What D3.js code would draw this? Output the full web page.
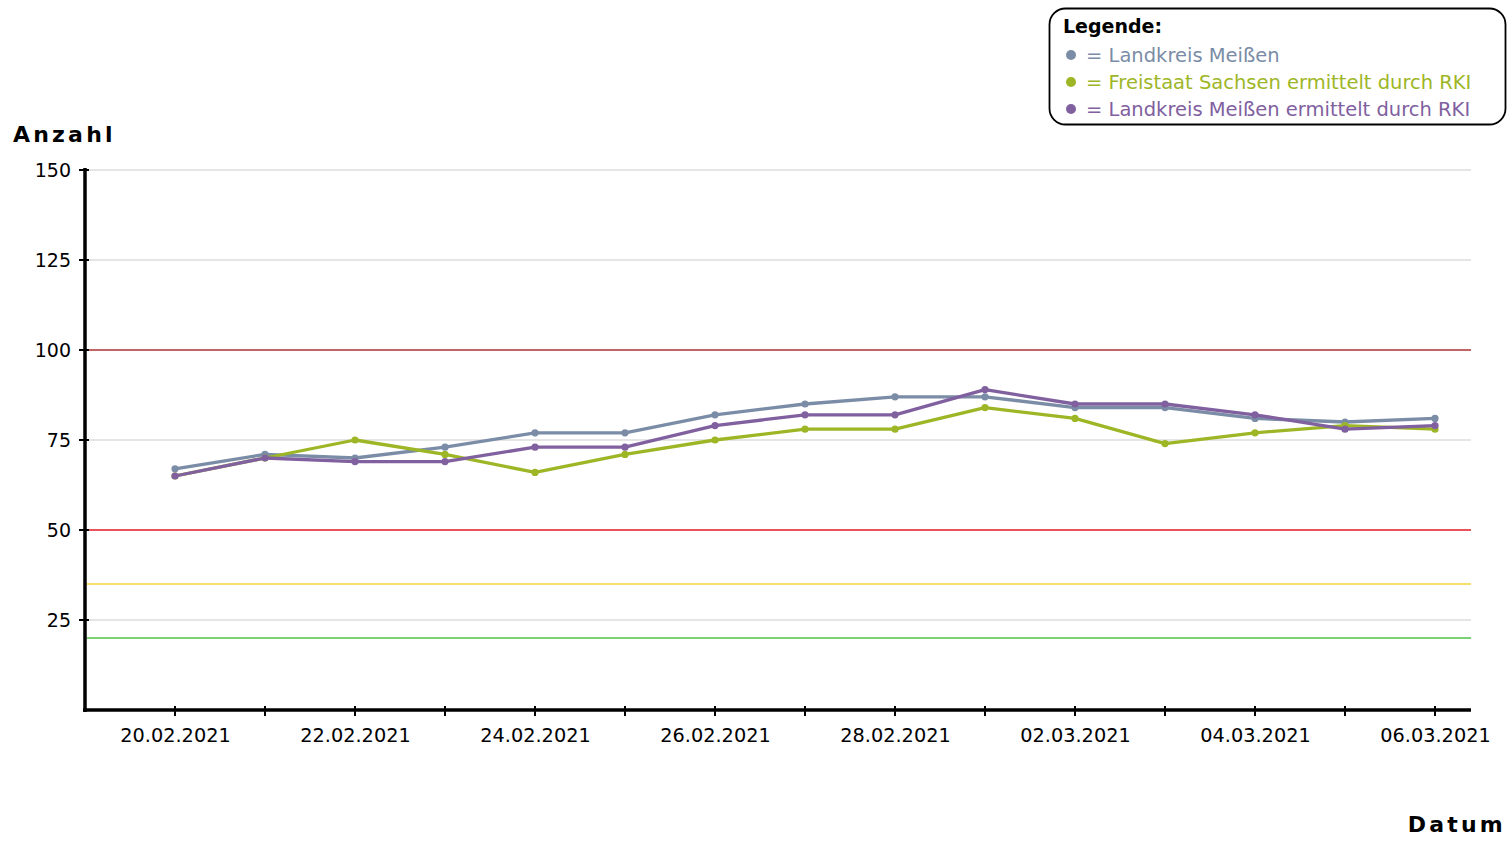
<!DOCTYPE html>
<html>
<head>
<meta charset="utf-8">
<script src="https://cdn.jsdelivr.net/npm/d3@7"></script>
<style>
  html, body { margin: 0; padding: 0; background: #fff; }
  svg { display: block; font-family: "DejaVu Sans", Verdana, sans-serif; }
</style>
</head>
<body>
<svg id="chart" width="1507" height="852"></svg>
<script>
const dates = ["20.02.2021","21.02.2021","22.02.2021","23.02.2021","24.02.2021","25.02.2021","26.02.2021","27.02.2021","28.02.2021","01.03.2021","02.03.2021","03.03.2021","04.03.2021","05.03.2021","06.03.2021"];
const landkreisMeissen = [67,71,70,73,77,77,82,85,87,87,84,84,81,80,81];
const freistaatSachsenRKI = [65,70,75,71,66,71,75,78,78,84,81,74,77,79,78];
const landkreisMeissenRKI = [65,70,69,69,73,73,79,82,82,89,85,85,82,78,79];
const yTicks = [25,50,75,100,125,150];
const thresholds = [100,50,35,20];
const thresholdColors = ["#b83a3a","#e8232a","#f5d53a","#4cc447"];
const seriesNames = ["Landkreis Meißen","Freistaat Sachsen ermittelt durch RKI","Landkreis Meißen ermittelt durch RKI"];
const seriesColors = ["#7a8ca6","#9db626","#80609f"];

const series = [landkreisMeissen, freistaatSachsenRKI, landkreisMeissenRKI];

const svg = d3.select("#chart");
const pLeft = 85, pRight = 1471, pTop = 170, pBottom = 710;

const x = d3.scaleLinear().domain([-1, dates.length - 0.6]).range([pLeft, pRight]);
const y = d3.scaleLinear().domain([0, 150]).range([pBottom, pTop]);

// gridlines
svg.append("g").selectAll("line").data(yTicks).join("line")
  .attr("x1", pLeft + 2).attr("x2", pRight)
  .attr("y1", d => y(d)).attr("y2", d => y(d))
  .attr("stroke", "#dcdcdc").attr("stroke-width", 1.5);

// threshold lines
svg.append("g").selectAll("line").data(thresholds).join("line")
  .attr("x1", pLeft + 2).attr("x2", pRight)
  .attr("y1", d => y(d)).attr("y2", d => y(d))
  .attr("stroke", (d, i) => thresholdColors[i]).attr("stroke-width", 1.6);

// y axis
const yAxis = d3.axisLeft(y).tickValues(yTicks).tickSize(0).tickPadding(14);
const gy = svg.append("g").attr("transform", `translate(${pLeft},0)`).call(yAxis);
gy.select(".domain").remove();
gy.selectAll("text").attr("font-size", 19).attr("fill", "#000")
  .style("font-family", "'DejaVu Sans', Verdana, sans-serif");
svg.append("g").selectAll("line").data(yTicks).join("line")
  .attr("x1", pLeft - 6).attr("x2", pLeft + 4)
  .attr("y1", d => y(d)).attr("y2", d => y(d))
  .attr("stroke", "#000").attr("stroke-width", 2);

// x axis
const idx = d3.range(dates.length);
const xAxis = d3.axisBottom(x).tickValues(idx.filter(i => i % 2 === 0))
  .tickFormat(i => dates[i]).tickSize(0).tickPadding(18);
const gx = svg.append("g").attr("transform", `translate(0,${pBottom})`).call(xAxis);
gx.select(".domain").remove();
gx.selectAll("text").attr("font-size", 19.3).attr("fill", "#000")
  .style("font-family", "'DejaVu Sans', Verdana, sans-serif");
svg.append("g").selectAll("line").data(idx).join("line")
  .attr("x1", d => x(d)).attr("x2", d => x(d))
  .attr("y1", pBottom - 4).attr("y2", pBottom + 6)
  .attr("stroke", "#000").attr("stroke-width", 2);

// axis lines
svg.append("line").attr("x1", pLeft).attr("x2", pLeft).attr("y1", pTop - 2).attr("y2", pBottom + 2)
  .attr("stroke", "#000").attr("stroke-width", 3.5);
svg.append("line").attr("x1", pLeft - 2).attr("x2", pRight).attr("y1", pBottom).attr("y2", pBottom)
  .attr("stroke", "#000").attr("stroke-width", 3.5);

// series
const line = d3.line().x((d, i) => x(i)).y(d => y(d));
series.forEach((vals, s) => {
  const g = svg.append("g");
  g.append("path").datum(vals).attr("d", line)
    .attr("fill", "none").attr("stroke", seriesColors[s]).attr("stroke-width", 3.3)
    .attr("stroke-linejoin", "round");
  g.selectAll("circle").data(vals).join("circle")
    .attr("cx", (d, i) => x(i)).attr("cy", d => y(d)).attr("r", 3.6)
    .attr("fill", seriesColors[s]);
});

// axis titles
svg.append("text").attr("x", 13).attr("y", 142).text("Anzahl")
  .attr("font-size", 22).attr("font-weight", "bold").attr("letter-spacing", 3.2).attr("fill", "#000");
svg.append("text").attr("x", 1506).attr("y", 832).attr("text-anchor", "end").text("Datum")
  .attr("font-size", 22).attr("font-weight", "bold").attr("letter-spacing", 3.2).attr("fill", "#000");

// legend
const lg = svg.append("g");
lg.append("rect").attr("x", 1049.5).attr("y", 8.5).attr("width", 456).attr("height", 116)
  .attr("rx", 16).attr("ry", 16).attr("fill", "#fff").attr("stroke", "#000").attr("stroke-width", 1.8);
lg.append("text").attr("x", 1063).attr("y", 33).text("Legende:")
  .attr("font-size", 19).attr("font-weight", "bold").attr("fill", "#000");
seriesNames.forEach((n, i) => {
  const cy = 55 + i * 27;
  lg.append("circle").attr("cx", 1071).attr("cy", cy).attr("r", 5).attr("fill", seriesColors[i]);
  lg.append("text").attr("x", 1086).attr("y", cy + 6.5).text("= " + n)
    .attr("font-size", 19.5).attr("fill", seriesColors[i]);
});
</script>
</body>
</html>
